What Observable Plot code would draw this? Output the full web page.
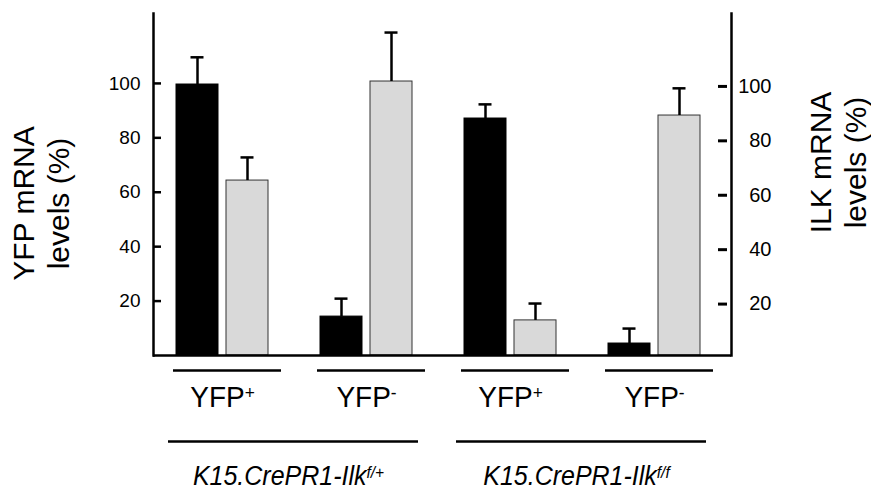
<!DOCTYPE html>
<html><head><meta charset="utf-8">
<script src="https://cdn.jsdelivr.net/npm/d3@7"></script>
<script src="https://cdn.jsdelivr.net/npm/@observablehq/plot@0.6"></script>
<style>body{margin:0;background:#fff}</style>
</head><body><div id="chart"></div>
<script>
// ---- data ----
const groups = ["f/+ YFP+", "f/+ YFP-", "f/f YFP+", "f/f YFP-"];
const fractionLabels = ["YFP^+", "YFP^-", "YFP^+", "YFP^-"];
const genotypeLabels = ["K15.CrePR1-Ilk^f/+", "K15.CrePR1-Ilk^f/f"];
const genotypeFirst = ["f/+ YFP+", "f/f YFP+"];
const genotypeLast = ["f/+ YFP-", "f/f YFP-"];
const yfpValues = [99.6, 14.3, 87.1, 4.4];
const yfpErrors = [10, 6.6, 5.2, 5.5];
const ilkValues = [64.3, 100.7, 12.9, 88.2];
const ilkErrors = [8.5, 18, 6.2, 10];
const yTicks = [20, 40, 60, 80, 100];
const leftTitle = "YFP mRNA\nlevels (%)";
const rightTitle = "ILK mRNA\nlevels (%)";

const yfp = groups.map((g, i) => ({group: g, value: yfpValues[i], upper: yfpValues[i] + yfpErrors[i]}));
const ilk = groups.map((g, i) => ({group: g, value: ilkValues[i], upper: ilkValues[i] + ilkErrors[i]}));
const genotypes = genotypeLabels.map((l, i) => ({label: l, from: genotypeFirst[i], to: genotypeLast[i]}));

const font = "'Liberation Sans', Arial, sans-serif";
const plot = Plot.plot({
  width: 871,
  height: 493,
  marginLeft: 153,
  marginRight: 140,
  marginTop: 13,
  marginBottom: 138,
  style: {fontFamily: font, fontSize: "17px", color: "#000", background: "#fff", overflow: "visible"},
  x: {type: "band", domain: groups, range: [175, 701], paddingInner: 0.364, paddingOuter: 0, axis: null},
  y: {domain: [0, 125.7], axis: null},
  marks: [
    Plot.barY(yfp, {x: "group", y: "value", fill: "#000", stroke: "#000", strokeWidth: 1, insetRight: 50}),
    Plot.barY(ilk, {x: "group", y: "value", fill: "#d9d9d9", stroke: "#333", strokeWidth: 1, insetLeft: 50}),
    Plot.ruleX(yfp, {x: "group", y1: "value", y2: "upper", dx: -25, stroke: "#000", strokeWidth: 2.5}),
    Plot.ruleX(ilk, {x: "group", y1: "value", y2: "upper", dx: 25, stroke: "#000", strokeWidth: 2.5}),
    Plot.tickY(yfp, {x: "group", y: "upper", insetLeft: 14.5, insetRight: 64.5, stroke: "#000", strokeWidth: 2.5}),
    Plot.tickY(ilk, {x: "group", y: "upper", insetLeft: 64.5, insetRight: 14.5, stroke: "#000", strokeWidth: 2.5}),
    Plot.ruleY([0], {stroke: "#000", strokeWidth: 2.5}),
    Plot.frame({anchor: "left", stroke: "#000", strokeWidth: 2.5}),
    Plot.frame({anchor: "right", stroke: "#000", strokeWidth: 2.5}),
    // left axis: inward ticks + labels
    Plot.tickY(yTicks, {y: d => d, insetLeft: 0, insetRight: 570, stroke: "#000", strokeWidth: 2.5}),
    Plot.text(yTicks, {y: d => d, text: d => String(d), frameAnchor: "left", dx: -13, textAnchor: "end", fontSize: 19}),
    // right axis: inward ticks + labels
    Plot.tickY(yTicks, {y: d => d, insetLeft: 565, insetRight: 4, dy: 3, stroke: "#000", strokeWidth: 3}),
    Plot.text(yTicks, {y: d => d, text: d => String(d), frameAnchor: "right", dx: 40, dy: 3, textAnchor: "end", fontSize: 20}),
    // axis titles
    Plot.text([leftTitle], {frameAnchor: "left", text: d => d, rotate: -90, textAnchor: "middle", lineAnchor: "middle", dx: -113, dy: 19, fontSize: 30, lineHeight: 1.15}),
    Plot.text([rightTitle], {frameAnchor: "right", text: d => d, rotate: -90, textAnchor: "middle", lineAnchor: "middle", dx: 106, dy: -22, fontSize: 30, lineHeight: 1.15}),
    // group annotations under the bars
    Plot.tickY(groups, {x: d => d, y: () => 0, dy: 15, insetLeft: -3, insetRight: -13, stroke: "#000", strokeWidth: 2.5}),
    Plot.text(groups, {x: d => d, y: () => 0, text: (d, i) => fractionLabels[i], dy: 42, fontSize: 28}),
    Plot.ruleY(genotypes, {x1: "from", x2: "to", y: () => 0, dy: 86, insetLeft: -8, insetRight: -6, stroke: "#000", strokeWidth: 2.5}),
    Plot.text(genotypes, {x: "from", y: () => 0, text: "label", dx: 66, dy: 121, fontSize: 25, fontStyle: "italic"})
  ]
});

// superscripts: turn "base^sup" into base + raised tspan; slight vertical stretch like the reference lettering
plot.querySelectorAll("text").forEach(t => {
  if (t.children.length === 0 && t.textContent.includes("^")) {
    const [base, sup] = t.textContent.split("^");
    t.textContent = base;
    const s = document.createElementNS("http://www.w3.org/2000/svg", "tspan");
    s.setAttribute("dy", "-0.45em");
    s.setAttribute("font-size", "62%");
    s.textContent = sup;
    t.appendChild(s);
    const tr = t.getAttribute("transform");
    if (tr) t.setAttribute("transform", tr + " scale(1,1.08)");
  }
});
document.getElementById("chart").appendChild(plot);
</script>
</body></html>
